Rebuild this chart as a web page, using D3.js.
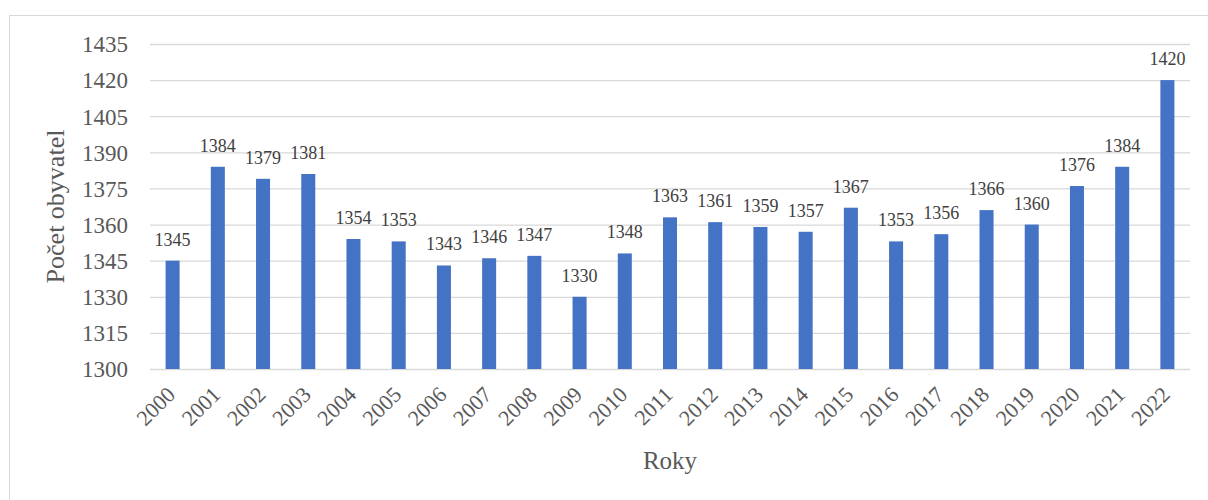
<!DOCTYPE html>
<html>
<head>
<meta charset="utf-8">
<script src="https://cdn.jsdelivr.net/npm/d3@7"></script>
<style>
  body { margin: 0; overflow: hidden; background: #fff; }
</style>
</head>
<body>
<div class="root"></div>
<script>
var years = ['2000', '2001', '2002', '2003', '2004', '2005', '2006', '2007', '2008', '2009', '2010',
  '2011', '2012', '2013', '2014', '2015', '2016', '2017', '2018', '2019', '2020', '2021', '2022'];
var population = [1345, 1384, 1379, 1381, 1354, 1353, 1343, 1346, 1347, 1330, 1348,
  1363, 1361, 1359, 1357, 1367, 1353, 1356, 1366, 1360, 1376, 1384, 1420];
var yTicks = [1300, 1315, 1330, 1345, 1360, 1375, 1390, 1405, 1420, 1435];

var serifFont = '"Liberation Serif", "Times New Roman", serif';

function drawChart() {
  var w = 1208;
  var h = 500;
  var left = 150, right = 1190, top = 44, bottom = 369;

  var svg = d3.select('.root').append('svg')
    .attr('width', w)
    .attr('height', h)
    .style('font-family', serifFont);

  // chart frame
  svg.append('rect')
    .attr('x', 9.5)
    .attr('y', 15.5)
    .attr('width', 1300)
    .attr('height', 600)
    .style('fill', 'none')
    .style('stroke', '#d9d9d9');

  var x = d3.scaleBand()
    .domain(years)
    .range([left, right])
    .paddingInner(0.69)
    .paddingOuter(0.345);

  var y = d3.scaleLinear()
    .domain([1300, 1435])
    .range([bottom, top]);

  // gridlines
  svg.append('g')
    .attr('class', 'grid')
    .attr('transform', 'translate(' + left + ',0)')
    .call(d3.axisLeft(y).tickValues(yTicks).tickSize(-(right - left)).tickFormat(''))
    .call(function(g) {
      g.select('.domain').remove();
      g.selectAll('line').style('stroke', '#d9d9d9').style('stroke-width', 1.3);
    });

  // y tick labels
  svg.append('g')
    .attr('transform', 'translate(128,0)')
    .call(d3.axisLeft(y).tickValues(yTicks).tickSize(0).tickPadding(0).tickFormat(d3.format('d')))
    .call(function(g) {
      g.attr('font-family', null).attr('font-size', null);
      g.select('.domain').remove();
      g.selectAll('text')
        .attr('dy', '0.34em')
        .style('font-family', serifFont)
        .style('font-size', '23px')
        .style('fill', '#595959');
    });

  // bars
  svg.append('g')
    .selectAll('rect')
    .data(population)
    .enter().append('rect')
      .attr('x', function(d, i) { return x(years[i]); })
      .attr('y', function(d) { return y(d); })
      .attr('width', x.bandwidth())
      .attr('height', function(d) { return y(1300) - y(d); })
      .style('fill', '#4472c4');

  // value labels
  svg.append('g')
    .selectAll('text')
    .data(population)
    .enter().append('text')
      .attr('x', function(d, i) { return x(years[i]) + x.bandwidth() / 2; })
      .attr('y', function(d) { return y(d) - 15; })
      .attr('text-anchor', 'middle')
      .style('font-family', serifFont)
      .style('font-size', '18px')
      .style('fill', '#404040')
      .text(function(d) { return d; });

  // x tick labels
  svg.append('g')
    .selectAll('text')
    .data(years)
    .enter().append('text')
      .attr('transform', function(d) {
        return 'translate(' + (x(d) + x.bandwidth() / 2 + 4) + ',' + (bottom + 27) + ') rotate(-45)';
      })
      .attr('text-anchor', 'end')
      .style('font-family', serifFont)
      .style('font-size', '22px')
      .style('fill', '#595959')
      .text(function(d) { return d; });

  // axis titles
  svg.append('text')
    .attr('x', (left + right) / 2)
    .attr('y', 469)
    .attr('text-anchor', 'middle')
    .style('font-family', serifFont)
    .style('font-size', '25px')
    .style('fill', '#595959')
    .text('Roky');

  svg.append('text')
    .attr('transform', 'translate(64,' + ((top + bottom) / 2) + ') rotate(-90)')
    .attr('text-anchor', 'middle')
    .style('font-family', serifFont)
    .style('font-size', '26px')
    .style('fill', '#595959')
    .text('Počet obyvatel');
}

window.onload = function() {
  drawChart();
}
</script>
</body>
</html>
